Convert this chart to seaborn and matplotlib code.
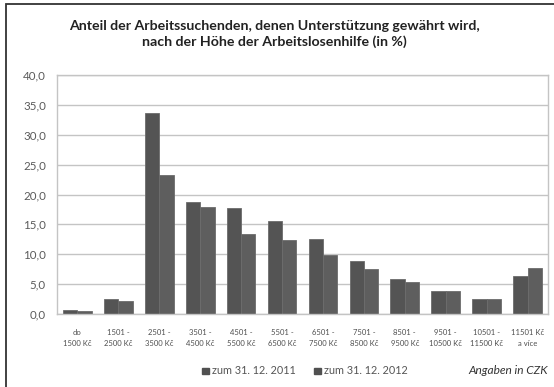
import matplotlib
matplotlib.use("Agg")
import matplotlib.pyplot as plt
import seaborn as sns
import pandas as pd
from matplotlib.patches import Rectangle
from matplotlib.ticker import FuncFormatter

categories = ["do\n1500 Kč", "1501 -\n2500 Kč", "2501 -\n3500 Kč", "3501 -\n4500 Kč",
              "4501 -\n5500 Kč", "5501 -\n6500 Kč", "6501 -\n7500 Kč", "7501 -\n8500 Kč",
              "8501 -\n9500 Kč", "9501 -\n10500 Kč", "10501 -\n11500 Kč", "11501 Kč\na více"]
series_names = ["zum 31. 12. 2011", "zum 31. 12. 2012"]
values_2011 = [0.7, 2.5, 33.6, 18.7, 17.7, 15.6, 12.5, 8.9, 5.8, 3.9, 2.5, 6.4]
values_2012 = [0.5, 2.2, 23.2, 17.9, 13.4, 12.4, 9.8, 7.5, 5.3, 3.8, 2.5, 7.7]
title = "Anteil der Arbeitssuchenden, denen Unterstützung gewährt wird,\nnach der Höhe der Arbeitslosenhilfe (in %)"
note = "Angaben in CZK"

df = pd.DataFrame({
    "Kategorie": categories * 2,
    "Wert": values_2011 + values_2012,
    "Stand": [series_names[0]] * len(categories) + [series_names[1]] * len(categories),
})

sns.set_theme(style="white")
plt.rcParams["font.family"] = ["Lato", "DejaVu Sans"]

fig = plt.figure(figsize=(5.54, 3.87), dpi=100)
ax = fig.add_axes([57 / 554, 73 / 387, 491 / 554, 239 / 387])

colors = ["#545454", "#5e5e5e"]
sns.barplot(data=df, x="Kategorie", y="Wert", hue="Stand", palette=colors,
            width=0.7, gap=0, saturation=1, edgecolor="#6c6c6c", linewidth=0.6,
            ax=ax, legend=False)

ax.set_ylim(0, 40)
ax.set_xlim(-0.5, len(categories) - 0.5)
ax.set_yticks(range(0, 41, 5))
ax.yaxis.set_major_formatter(FuncFormatter(lambda v, p: f"{v:.1f}".replace(".", ",")))
ax.grid(axis="y", color="#c4c4c4", linewidth=1.0)
ax.set_axisbelow(True)
ax.set_xlabel("")
ax.set_ylabel("")
for s in ax.spines.values():
    s.set_color("#c4c4c4")
    s.set_linewidth(1.0)
ax.tick_params(axis="y", length=0, pad=8, labelsize=8.3, labelcolor="#5a5a5a")
ax.tick_params(axis="x", length=0, pad=11, labelsize=5.5, labelcolor="#4e4e4e")
for lbl in ax.get_xticklabels():
    lbl.set_linespacing(1.6)

fig.text(274 / 554, 1 - 34 / 387, title, ha="center", va="center", fontsize=10.2,
         fontweight="bold", color="#222222", linespacing=1.3)

# legend row
ly = 387 - 371
for x0, name in zip([202, 314], series_names):
    fig.patches.append(Rectangle((x0 / 554, (ly - 3) / 387), 6.5 / 554, 6.5 / 387,
                                 transform=fig.transFigure, color="#505050"))
    fig.text((x0 + 10) / 554, ly / 387, name, ha="left", va="center",
             fontsize=7.8, color="#555555")
fig.text(548 / 554, ly / 387, note, ha="right", va="center", fontsize=8.6,
         style="italic", color="#333333")

# outer frame
fig.patches.append(Rectangle((6 / 554, -0.05), 1.2, 1.05 - 4 / 387,
                             transform=fig.transFigure, fill=False,
                             edgecolor="#333333", linewidth=1.3))

fig.savefig("out.png", dpi=100)
